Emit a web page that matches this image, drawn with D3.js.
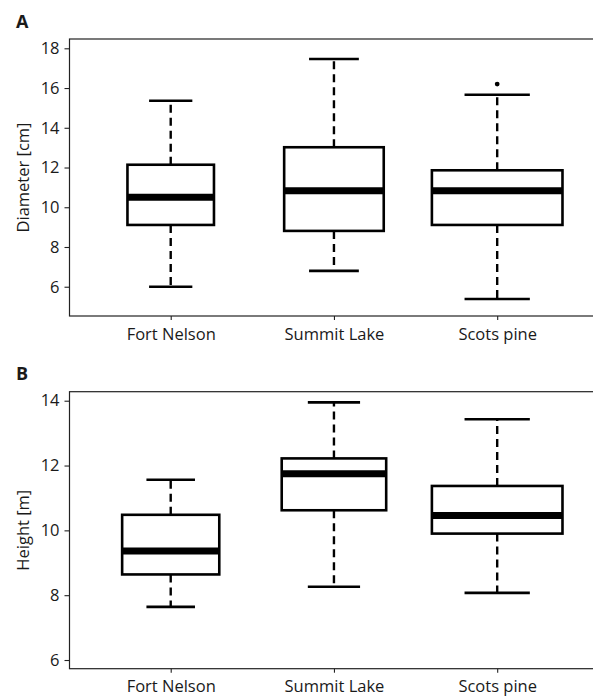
<!DOCTYPE html>
<html><head><meta charset="utf-8">
<script src="https://cdn.jsdelivr.net/npm/d3@7"></script>
<style>body{margin:0;background:#fff}svg{display:block}text{font-family:"Open Sans",sans-serif;fill:#1a1a1a}</style>
</head><body>
<svg id="c" width="593" height="699"></svg>
<script>
const categories = ["Fort Nelson", "Summit Lake", "Scots pine"];
// Panel A: Diameter [cm]
const diamLow    = [6.0, 6.8, 5.38];
const diamQ1     = [9.11, 8.81, 9.11];
const diamMedian = [10.5, 10.83, 10.83];
const diamQ3     = [12.14, 13.02, 11.86];
const diamHigh   = [15.36, 17.46, 15.66];
const diamOutliers = [[], [], [16.2]];
const diamRelWidth = [0.53, 0.61, 0.80];
const diamTicks = [6, 8, 10, 12, 14, 16, 18];
// Panel B: Height [m]
const htLow    = [7.64, 8.26, 8.07];
const htQ1     = [8.64, 10.62, 9.9];
const htMedian = [9.36, 11.75, 10.46];
const htQ3     = [10.48, 12.22, 11.37];
const htHigh   = [11.56, 13.95, 13.43];
const htOutliers = [[], [], []];
const htRelWidth = [0.595, 0.64, 0.80];
const htTicks = [6, 8, 10, 12, 14];

const svg = d3.select("#c");
const x = d3.scaleLinear().domain([0.38, 3.62]).range([69.5, 598.4]);

function panel(cfg) {
  const y = d3.scaleLinear().domain(cfg.domain).range([cfg.bottom, cfg.top]);
  const g = svg.append("g");
  // frame
  g.append("rect").attr("x", x.range()[0]).attr("y", cfg.top)
    .attr("width", x.range()[1] - x.range()[0]).attr("height", cfg.bottom - cfg.top)
    .attr("fill", "none").attr("stroke", "#222").attr("stroke-width", 1.2);
  // y axis
  const ya = g.append("g").attr("transform", `translate(${x.range()[0]},0)`)
    .call(d3.axisLeft(y).tickValues(cfg.ticks).tickSize(5).tickPadding(5).tickFormat(d3.format("d")));
  ya.select(".domain").remove();
  ya.selectAll("line").attr("stroke", "#222").attr("stroke-width", 1.1);
  ya.selectAll("text").style("font-size", "16.5px").attr("fill", "#1a1a1a");
  // x axis
  const xa = g.append("g").attr("transform", `translate(0,${cfg.bottom})`)
    .call(d3.axisBottom(x).tickValues([1, 2, 3]).tickSize(4).tickPadding(8).tickFormat((d) => categories[d - 1]));
  xa.select(".domain").remove();
  xa.selectAll("line").attr("stroke", "#222").attr("stroke-width", 1.1);
  xa.selectAll("text").style("font-size", "16.5px").attr("fill", "#1a1a1a");
  // y title
  g.append("text").attr("transform", `translate(29,${(cfg.top + cfg.bottom) / 2}) rotate(-90)`)
    .attr("text-anchor", "middle").style("font-size", "16.5px").text(cfg.title);
  // panel letter
  g.append("text").attr("x", 16).attr("y", cfg.letterY).style("font-size", "18px")
    .style("font-weight", "bold").text(cfg.letter);

  const unit = x(2) - x(1);
  categories.forEach((c, i) => {
    const cx = x(i + 1);
    const w = cfg.relw[i] * unit;
    const bg = g.append("g");
    // whiskers
    bg.append("line").attr("x1", cx).attr("x2", cx).attr("y1", y(cfg.q3[i])).attr("y2", y(cfg.high[i]))
      .attr("stroke", "#000").attr("stroke-width", 2.4).attr("stroke-dasharray", "8,5");
    bg.append("line").attr("x1", cx).attr("x2", cx).attr("y1", y(cfg.q1[i])).attr("y2", y(cfg.low[i]))
      .attr("stroke", "#000").attr("stroke-width", 2.4).attr("stroke-dasharray", "8,5");
    // caps
    [cfg.high[i], cfg.low[i]].forEach(v => {
      bg.append("line").attr("x1", cx - w / 4).attr("x2", cx + w / 4).attr("y1", y(v)).attr("y2", y(v))
        .attr("stroke", "#000").attr("stroke-width", 2.6);
    });
    // box
    bg.append("rect").attr("x", cx - w / 2).attr("width", w)
      .attr("y", y(cfg.q3[i])).attr("height", y(cfg.q1[i]) - y(cfg.q3[i]))
      .attr("fill", "#fff").attr("stroke", "#000").attr("stroke-width", 2.6);
    // median
    bg.append("line").attr("x1", cx - w / 2).attr("x2", cx + w / 2)
      .attr("y1", y(cfg.med[i])).attr("y2", y(cfg.med[i]))
      .attr("stroke", "#000").attr("stroke-width", 7);
    // outliers
    cfg.out[i].forEach(v => {
      bg.append("circle").attr("cx", cx).attr("cy", y(v)).attr("r", 2.4).attr("fill", "#000");
    });
  });
}

panel({top: 39, bottom: 316, domain: [4.527, 18.468], ticks: diamTicks, title: "Diameter [cm]",
  letter: "A", letterY: 28, low: diamLow, q1: diamQ1, med: diamMedian, q3: diamQ3, high: diamHigh,
  out: diamOutliers, relw: diamRelWidth});
panel({top: 391.7, bottom: 668.7, domain: [5.732, 14.278], ticks: htTicks, title: "Height [m]",
  letter: "B", letterY: 380, low: htLow, q1: htQ1, med: htMedian, q3: htQ3, high: htHigh,
  out: htOutliers, relw: htRelWidth});
</script>
</body></html>
